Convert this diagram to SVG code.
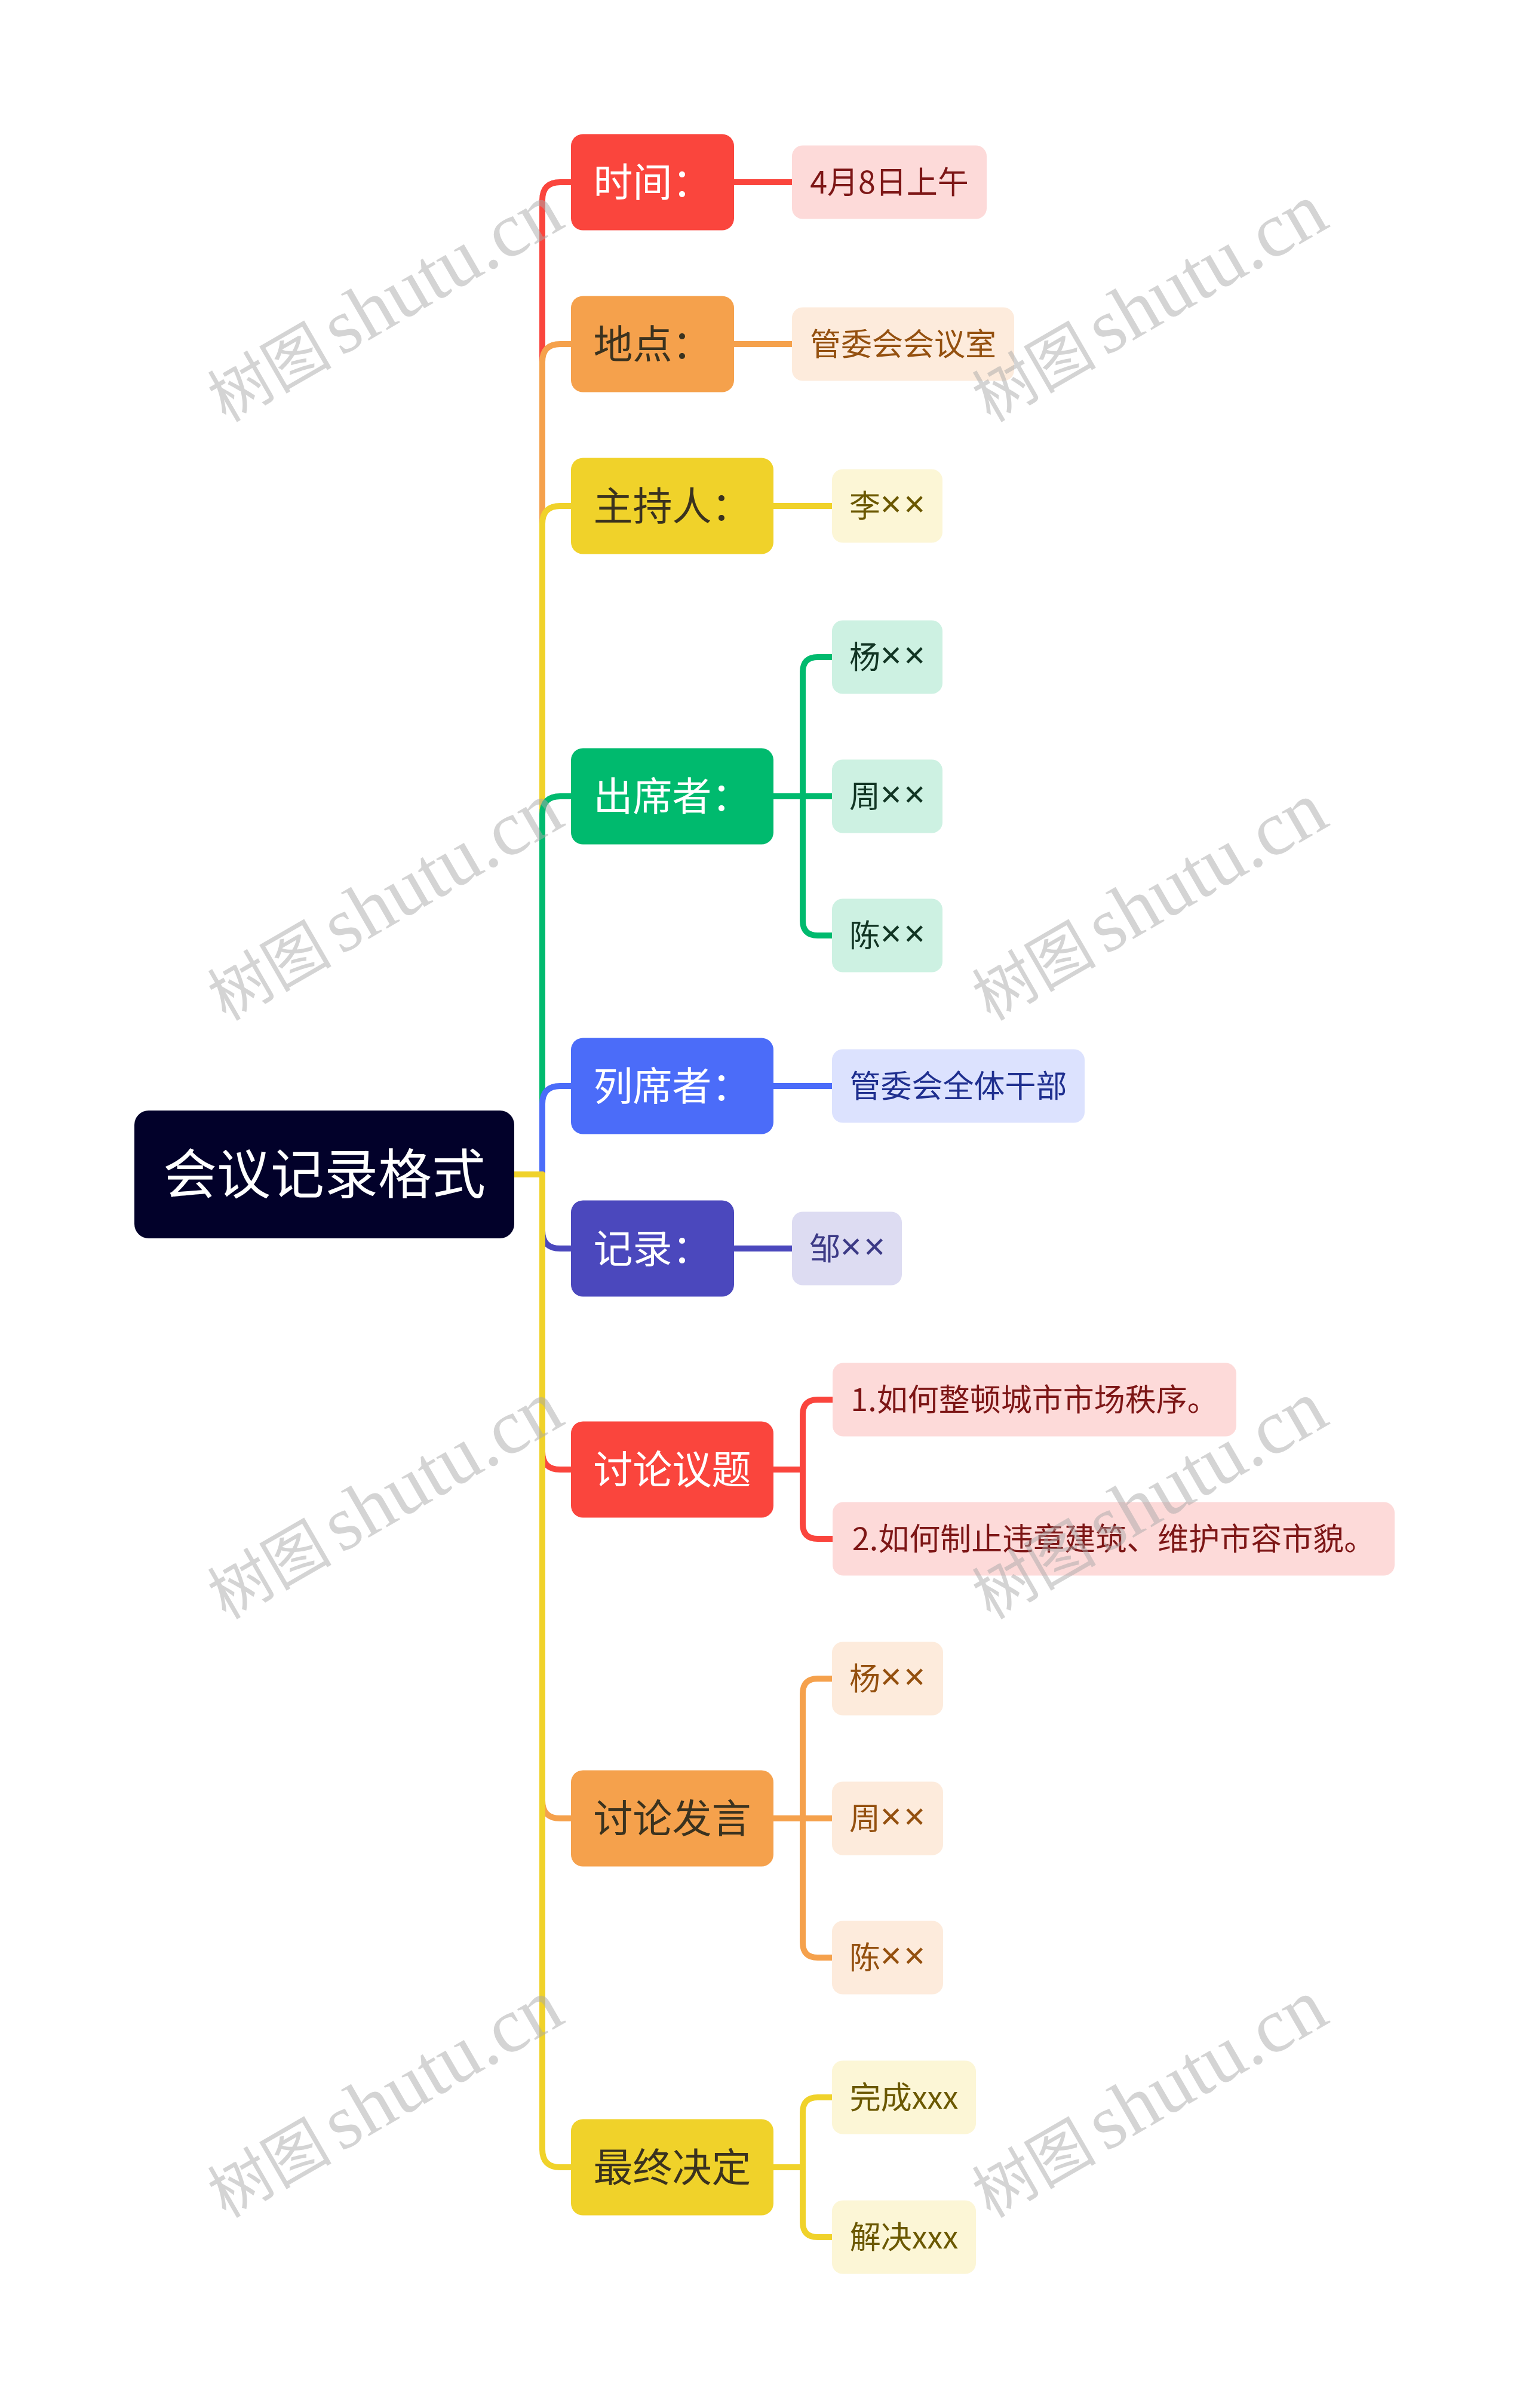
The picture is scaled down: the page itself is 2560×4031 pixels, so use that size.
<svg xmlns="http://www.w3.org/2000/svg" width="2560" height="4031" viewBox="0 0 2560 4031">
<style>
text{font-family:"Noto Sans CJK SC","Noto Sans",sans-serif;text-anchor:middle}
.root text{font-size:90px;fill:#ffffff}
.l1 text{font-size:66px}
.l2 text{font-size:52px}
.x{font-family:"Noto Sans","Liberation Sans",sans-serif;font-size:62px;letter-spacing:4px}
.w{fill:#ffffff}
.d{fill:#3A321F}
.ln{fill:none;stroke-width:10;stroke-linejoin:round}
.red{stroke:#FA453D}.org{stroke:#F5A14C}.yel{stroke:#F0D22A}.grn{stroke:#00BA6E}.blu{stroke:#4B6CF9}.pur{stroke:#4B48BD}
.wm{font-family:"Liberation Serif","Noto Sans CJK SC",serif;fill:#aaaaaa;opacity:0.5;text-anchor:start}
.wc{font-family:"Noto Sans CJK SC",sans-serif;font-size:104px}
.wl{font-size:130px}
</style>
<rect width="2560" height="4031" fill="#ffffff"/>
<g id="connectors">
<path class="ln red" d="M861,1966H908V335Q908,305 938,305H956"/>
<path class="ln org" d="M861,1966H908V606Q908,576 938,576H956"/>
<path class="ln yel" d="M861,1966H908V877Q908,847 938,847H956"/>
<path class="ln grn" d="M861,1966H908V1363Q908,1333 938,1333H956"/>
<path class="ln blu" d="M861,1966H908V1848Q908,1818 938,1818H956"/>
<path class="ln pur" d="M861,1966H908V2060Q908,2090 938,2090H956"/>
<path class="ln red" d="M861,1966H908V2430Q908,2460 938,2460H956"/>
<path class="ln org" d="M861,1966H908V3014Q908,3044 938,3044H956"/>
<path class="ln yel" d="M861,1966H908V3598Q908,3628 938,3628H956"/>
<path class="ln red" d="M1229,305H1326"/>
<path class="ln org" d="M1229,576H1326"/>
<path class="ln yel" d="M1295,847H1393"/>
<path class="ln grn" d="M1295,1333H1344V1125Q1344,1100 1369,1100H1393"/>
<path class="ln grn" d="M1295,1333H1393"/>
<path class="ln grn" d="M1295,1333H1344V1541Q1344,1566 1369,1566H1393"/>
<path class="ln blu" d="M1295,1818H1393"/>
<path class="ln pur" d="M1229,2090H1326"/>
<path class="ln red" d="M1295,2460H1344V2368Q1344,2343 1369,2343H1394"/>
<path class="ln red" d="M1295,2460H1344V2551Q1344,2576 1369,2576H1394"/>
<path class="ln org" d="M1295,3044H1344V2835Q1344,2810 1369,2810H1393"/>
<path class="ln org" d="M1295,3044H1393"/>
<path class="ln org" d="M1295,3044H1344V3252Q1344,3277 1369,3277H1393"/>
<path class="ln yel" d="M1295,3628H1344V3536Q1344,3511 1369,3511H1393"/>
<path class="ln yel" d="M1295,3628H1344V3720Q1344,3745 1369,3745H1393"/>
</g>
<g id="root" class="root"><rect x="225" y="1859" width="636" height="214" rx="24" fill="#02012A"/><text x="543" y="1998">会议记录格式</text></g>
<g id="n-time" class="l1"><rect x="956" y="224.5" width="273" height="161" rx="20" fill="#FA453D"/><text class="w" x="1092.5" y="329">时间：</text></g>
<g id="n-place" class="l1"><rect x="956" y="495.5" width="273" height="161" rx="20" fill="#F5A14C"/><text class="d" x="1092.5" y="600">地点：</text></g>
<g id="n-host" class="l1"><rect x="956" y="766.5" width="339" height="161" rx="20" fill="#F0D22A"/><text class="d" x="1125.5" y="871">主持人：</text></g>
<g id="n-attend" class="l1"><rect x="956" y="1252.5" width="339" height="161" rx="20" fill="#00BA6E"/><text class="w" x="1125.5" y="1357">出席者：</text></g>
<g id="n-observe" class="l1"><rect x="956" y="1737.5" width="339" height="161" rx="20" fill="#4B6CF9"/><text class="w" x="1125.5" y="1842">列席者：</text></g>
<g id="n-record" class="l1"><rect x="956" y="2009.5" width="273" height="161" rx="20" fill="#4B48BD"/><text class="w" x="1092.5" y="2114">记录：</text></g>
<g id="n-topic" class="l1"><rect x="956" y="2379.5" width="339" height="161" rx="20" fill="#FA453D"/><text class="w" x="1125.5" y="2484">讨论议题</text></g>
<g id="n-speech" class="l1"><rect x="956" y="2963.5" width="339" height="161" rx="20" fill="#F5A14C"/><text class="d" x="1125.5" y="3068">讨论发言</text></g>
<g id="n-decision" class="l1"><rect x="956" y="3547.5" width="339" height="161" rx="20" fill="#F0D22A"/><text class="d" x="1125.5" y="3652">最终决定</text></g>
<g id="c-time" class="l2"><rect x="1326" y="243.5" width="326" height="123" rx="18" fill="#FDDAD9"/><text x="1489" y="324" fill="#7D1616">4月8日上午</text></g>
<g id="c-place" class="l2"><rect x="1326" y="514.5" width="372" height="123" rx="18" fill="#FDEBDC"/><text x="1512" y="595" fill="#94500F">管委会会议室</text></g>
<g id="c-host" class="l2"><rect x="1393" y="785.5" width="185" height="123" rx="18" fill="#FCF6D6"/><text x="1422" y="866" fill="#6B5800" style="text-anchor:start">李<tspan class="x">××</tspan></text></g>
<g id="c-att1" class="l2"><rect x="1393" y="1038.5" width="185" height="123" rx="18" fill="#CDF1E2"/><text x="1422" y="1119" fill="#123524" style="text-anchor:start">杨<tspan class="x">××</tspan></text></g>
<g id="c-att2" class="l2"><rect x="1393" y="1271.5" width="185" height="123" rx="18" fill="#CDF1E2"/><text x="1422" y="1352" fill="#123524" style="text-anchor:start">周<tspan class="x">××</tspan></text></g>
<g id="c-att3" class="l2"><rect x="1393" y="1504.5" width="185" height="123" rx="18" fill="#CDF1E2"/><text x="1422" y="1585" fill="#123524" style="text-anchor:start">陈<tspan class="x">××</tspan></text></g>
<g id="c-obs" class="l2"><rect x="1393" y="1756.5" width="423" height="123" rx="18" fill="#DCE2FE"/><text x="1604.5" y="1837" fill="#1F2F8F">管委会全体干部</text></g>
<g id="c-rec" class="l2"><rect x="1326" y="2028.5" width="184" height="123" rx="18" fill="#DDDCF2"/><text x="1355" y="2109" fill="#3C3A86" style="text-anchor:start">邹<tspan class="x">××</tspan></text></g>
<g id="c-top1" class="l2"><rect x="1394" y="2281.5" width="676" height="123" rx="18" fill="#FDDAD9"/><text x="1732" y="2362" fill="#7D1616">1.如何整顿城市市场秩序。</text></g>
<g id="c-top2" class="l2"><rect x="1394" y="2514.5" width="941" height="123" rx="18" fill="#FDDAD9"/><text x="1864.5" y="2595" fill="#7D1616">2.如何制止违章建筑、维护市容市貌。</text></g>
<g id="c-sp1" class="l2"><rect x="1393" y="2748.5" width="186" height="123" rx="18" fill="#FDEBDC"/><text x="1422" y="2829" fill="#94500F" style="text-anchor:start">杨<tspan class="x">××</tspan></text></g>
<g id="c-sp2" class="l2"><rect x="1393" y="2982.5" width="186" height="123" rx="18" fill="#FDEBDC"/><text x="1422" y="3063" fill="#94500F" style="text-anchor:start">周<tspan class="x">××</tspan></text></g>
<g id="c-sp3" class="l2"><rect x="1393" y="3215.5" width="186" height="123" rx="18" fill="#FDEBDC"/><text x="1422" y="3296" fill="#94500F" style="text-anchor:start">陈<tspan class="x">××</tspan></text></g>
<g id="c-dec1" class="l2"><rect x="1393" y="3449.5" width="241" height="123" rx="18" fill="#FCF6D6"/><text x="1513.5" y="3530" fill="#6B5800">完成xxx</text></g>
<g id="c-dec2" class="l2"><rect x="1393" y="3683.5" width="241" height="123" rx="18" fill="#FCF6D6"/><text x="1513.5" y="3764" fill="#6B5800">解决xxx</text></g>
<g id="watermark">
<text class="wm" transform="translate(378,708) rotate(-30)"><tspan class="wc">树图</tspan><tspan class="wl" dx="15">shutu.cn</tspan></text>
<text class="wm" transform="translate(1658,708) rotate(-30)"><tspan class="wc">树图</tspan><tspan class="wl" dx="15">shutu.cn</tspan></text>
<text class="wm" transform="translate(378,1710) rotate(-30)"><tspan class="wc">树图</tspan><tspan class="wl" dx="15">shutu.cn</tspan></text>
<text class="wm" transform="translate(1658,1710) rotate(-30)"><tspan class="wc">树图</tspan><tspan class="wl" dx="15">shutu.cn</tspan></text>
<text class="wm" transform="translate(378,2712) rotate(-30)"><tspan class="wc">树图</tspan><tspan class="wl" dx="15">shutu.cn</tspan></text>
<text class="wm" transform="translate(1658,2712) rotate(-30)"><tspan class="wc">树图</tspan><tspan class="wl" dx="15">shutu.cn</tspan></text>
<text class="wm" transform="translate(378,3714) rotate(-30)"><tspan class="wc">树图</tspan><tspan class="wl" dx="15">shutu.cn</tspan></text>
<text class="wm" transform="translate(1658,3714) rotate(-30)"><tspan class="wc">树图</tspan><tspan class="wl" dx="15">shutu.cn</tspan></text>
</g>
</svg>
